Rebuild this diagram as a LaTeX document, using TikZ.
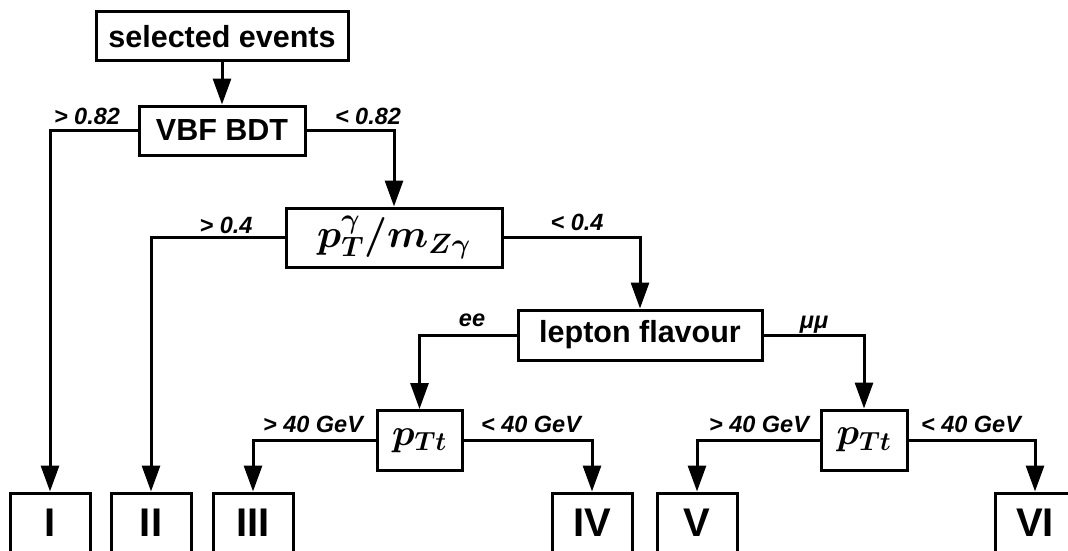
\documentclass[tikz,border=0pt]{standalone}
\usepackage{fix-cm}
\usepackage{amsmath}
\usepackage[no-math]{fontspec}
\setmainfont{Liberation Sans}
\usetikzlibrary{arrows.meta}

\tikzset{
  box/.style={draw, line width=3pt, inner sep=0pt, font=\fontsize{30.5}{34}\selectfont\bfseries},
  mathbox/.style={box, font=\fontsize{#1}{#1}\selectfont\boldmath},
  catbox/.style={box, minimum width=80pt, minimum height=59pt, font=\fontsize{40}{44}\selectfont\bfseries},
  cut/.style={anchor=base, inner sep=0pt, font=\fontsize{23.5}{26}\selectfont\bfseries\itshape},
  arr/.style={line width=3pt, -{Triangle[length=26pt, width=18pt]}},
}

\begin{document}
\begin{tikzpicture}[x=1pt, y=-1pt]

  \clip (0,0) rectangle (1068,551);

  % Cuts
  \node[box, minimum width=252pt, minimum height=49pt] (sel) at (222,36.5) {selected events};
  \node[box, minimum width=166pt, minimum height=49pt] (vbf) at (222,130.5) {VBF BDT};
  \node[mathbox=40, minimum width=216pt, minimum height=59pt] (ptm) at (394,237.5) {$p_T^\gamma/m_{Z\gamma}$};
  \node[box, minimum width=244pt, minimum height=50pt] (lep) at (640,335) {lepton flavour};
  \node[mathbox=37.5, minimum width=85pt, minimum height=60pt] (ptl) at (419.5,440.5) {$p_{Tt}$};
  \node[mathbox=37.5, minimum width=86pt, minimum height=60pt] (ptr) at (864,440) {$p_{Tt}$};

  % Categories
  \node[catbox] (c1) at (50,522.5) {I};
  \node[catbox] (c2) at (151,522.5) {II};
  \node[catbox] (c3) at (253,522.5) {III};
  \node[catbox] (c4) at (592,522.5) {IV};
  \node[catbox] (c5) at (697,522.5) {V};
  \node[catbox] (c6) at (1035,522.5) {VI};

  % Flow
  \draw[arr] (sel) -- (vbf);
  \draw[arr] (vbf.west) -| (c1.north);
  \draw[arr] (vbf.east) -| (ptm.north);
  \draw[arr] (ptm.west) -| (c2.north);
  \draw[arr] (ptm.east) -| (lep.north);
  \draw[arr] (lep.west) -| (ptl.north);
  \draw[arr] (lep.east) -| (ptr.north);
  \draw[arr] (ptl.west) -| (c3.north);
  \draw[arr] (ptl.east) -| (c4.north);
  \draw[arr] (ptr.west) -| (c5.north);
  \draw[arr] (ptr.east) -| (c6.north);

  % Labels
  \node[cut] (vbfhi) at (87,124) {> 0.82};
  \node[cut] (vbflo) at (368,124) {< 0.82};
  \node[cut] (ptmhi) at (226,233) {> 0.4};
  \node[cut] (ptmlo) at (577,230) {< 0.4};
  \node[cut] (ee) at (472,326) {ee};
  \node[cut] (mumu) at (814,328) {μμ};
  \node[cut] (ptlhi) at (313,432) {> 40 GeV};
  \node[cut] (ptllo) at (531,432) {< 40 GeV};
  \node[cut] (ptrhi) at (759,432) {> 40 GeV};
  \node[cut] (ptrlo) at (971,432) {< 40 GeV};

\end{tikzpicture}
\end{document}
